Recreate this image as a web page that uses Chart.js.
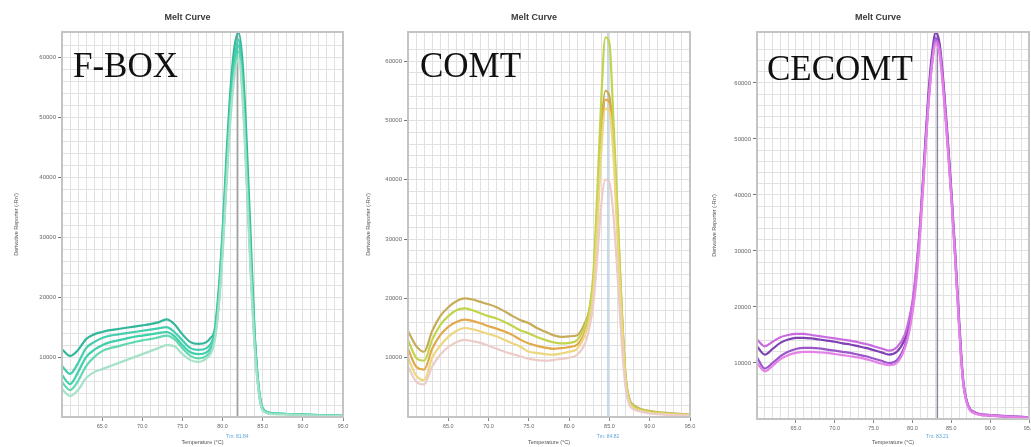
<!DOCTYPE html>
<html><head><meta charset="utf-8">
<script src="https://cdn.jsdelivr.net/npm/chart.js@4/dist/chart.umd.min.js"></script>
<style>
html,body{margin:0;padding:0;background:#fff;overflow:hidden;width:1031px;height:447px;}
.p{position:absolute;top:0;}
canvas{display:block;}
</style></head><body>
<div class="p" style="left:0px"><canvas id="c1" width="355" height="447"></canvas></div>
<div class="p" style="left:355px"><canvas id="c2" width="350" height="447"></canvas></div>
<div class="p" style="left:705px"><canvas id="c3" width="340" height="447"></canvas></div>
<script>
// ---------- text ----------
const chartTitle = 'Melt Curve';
const xAxisTitle = 'Temperature (°C)';
const yAxisTitle = "Derivative Reporter (-Rn')";
const geneNames = ['F-BOX', 'COMT', 'CECOMT'];
const xMajorTicks = [65, 70, 75, 80, 85, 90, 95];
const yTickLabels = ['10000', '20000', '30000', '40000', '50000', '60000'];
const tmValues = [81.84, 84.82, 83.21];

// ---------- F-BOX ----------
const fboxTemps = [60,61,62,63,64,65,66,67,68,69,70,71,72,73,74,75,76,77,78,78.5,79,79.5,80,80.5,81,81.5,82,82.5,83,83.5,84,84.5,85,86,88,90,92,95];
const fboxS5 = [0.47,0.35,0.45,0.65,0.75,0.80,0.85,0.90,0.95,1.00,1.05,1.10,1.15,1.20,1.18,1.05,0.95,0.92,0.98,1.05,1.25,1.80,2.70,3.90,5.00,5.70,6.00,5.30,3.90,2.40,1.15,0.42,0.11,0.05,0.04,0.03,0.02,0.02];
const fboxS4 = [0.58,0.45,0.60,0.85,1.00,1.10,1.15,1.18,1.22,1.25,1.28,1.30,1.33,1.36,1.30,1.15,1.02,0.98,1.02,1.10,1.30,1.85,2.80,4.00,5.10,5.80,6.10,5.40,4.00,2.50,1.20,0.45,0.12,0.06,0.05,0.04,0.03,0.02];
const fboxS3 = [0.70,0.55,0.75,1.00,1.12,1.20,1.25,1.28,1.31,1.34,1.36,1.38,1.40,1.42,1.35,1.20,1.08,1.05,1.08,1.15,1.32,1.90,2.90,4.10,5.20,5.90,6.20,5.60,4.20,2.70,1.35,0.50,0.14,0.06,0.05,0.04,0.03,0.02];
const fboxS2 = [0.85,0.72,0.90,1.15,1.25,1.32,1.36,1.38,1.40,1.42,1.44,1.46,1.48,1.50,1.42,1.28,1.15,1.12,1.15,1.22,1.40,2.00,3.00,4.20,5.30,6.00,6.30,5.50,4.10,2.60,1.30,0.50,0.15,0.07,0.05,0.04,0.03,0.02];
const fboxS1 = [1.13,1.02,1.12,1.30,1.38,1.42,1.45,1.47,1.49,1.51,1.53,1.55,1.58,1.63,1.55,1.38,1.25,1.22,1.25,1.32,1.45,2.10,3.10,4.40,5.50,6.20,6.42,5.90,4.60,3.00,1.40,0.45,0.12,0.06,0.05,0.04,0.03,0.02];

// ---------- COMT ----------
const comtTemps = [60,61,62,63,64,65,66,67,68,69,70,71,72,73,74,75,76,77,78,79,80,81,82,82.5,83,83.5,84,84.5,85,85.5,86,86.5,87,87.5,88,89,90,92,95];
const comtS5 = [0.85,0.60,0.55,0.85,1.05,1.18,1.26,1.30,1.28,1.25,1.20,1.15,1.10,1.06,1.02,0.98,0.96,0.95,0.96,0.98,1.00,1.05,1.25,1.50,1.90,2.70,3.60,4.00,3.95,3.40,2.40,1.30,0.50,0.20,0.13,0.09,0.06,0.04,0.02];
const comtS4 = [1.00,0.70,0.62,1.00,1.20,1.35,1.45,1.50,1.48,1.44,1.40,1.36,1.30,1.24,1.18,1.10,1.08,1.06,1.05,1.07,1.10,1.15,1.40,1.65,2.10,3.20,4.50,5.20,5.15,4.40,3.00,1.70,0.60,0.24,0.15,0.10,0.07,0.05,0.03];
const comtS3 = [1.15,0.85,0.80,1.15,1.38,1.52,1.60,1.64,1.62,1.58,1.53,1.49,1.44,1.38,1.30,1.24,1.20,1.17,1.15,1.16,1.18,1.22,1.45,1.70,2.20,3.40,4.70,5.35,5.30,4.60,3.20,1.80,0.65,0.26,0.17,0.11,0.08,0.05,0.03];
const comtS2 = [1.30,1.00,0.95,1.30,1.55,1.70,1.80,1.83,1.80,1.75,1.70,1.66,1.60,1.53,1.46,1.41,1.35,1.30,1.26,1.24,1.25,1.30,1.55,1.80,2.40,3.80,5.40,6.40,6.30,5.00,3.50,1.90,0.70,0.28,0.18,0.12,0.09,0.06,0.03];
const comtS1 = [1.45,1.20,1.10,1.45,1.70,1.85,1.95,2.00,1.98,1.94,1.90,1.85,1.78,1.70,1.63,1.58,1.50,1.44,1.38,1.35,1.36,1.38,1.60,1.80,2.30,3.50,4.90,5.50,5.40,4.70,3.40,1.90,0.70,0.30,0.20,0.13,0.10,0.07,0.04];

// ---------- CECOMT ----------
const cecomtTemps = [60,61,62,63,64,65,66,67,68,69,70,71,72,73,74,75,76,77,78,79,79.5,80,80.5,81,81.5,82,82.5,83,83.5,84,84.5,85,85.5,86,86.5,87,88,90,92,95];
const cecomtS4 = [1.00,0.85,0.95,1.07,1.14,1.18,1.20,1.20,1.19,1.18,1.16,1.14,1.12,1.10,1.07,1.03,0.99,0.96,1.00,1.25,1.50,1.88,2.45,3.30,4.40,5.50,6.30,6.70,6.50,5.80,4.90,3.95,2.85,1.65,0.68,0.28,0.10,0.06,0.04,0.02];
const cecomtS3 = [1.10,0.90,1.00,1.12,1.20,1.25,1.27,1.27,1.26,1.24,1.22,1.20,1.18,1.15,1.12,1.08,1.04,1.00,1.05,1.30,1.58,1.95,2.55,3.40,4.50,5.60,6.40,6.80,6.60,5.90,5.00,4.00,2.90,1.70,0.70,0.30,0.11,0.06,0.04,0.02];
const cecomtS1 = [1.42,1.30,1.38,1.46,1.50,1.52,1.52,1.50,1.48,1.46,1.44,1.42,1.40,1.37,1.34,1.30,1.26,1.22,1.28,1.50,1.75,2.10,2.70,3.50,4.50,5.50,6.30,6.75,6.60,5.90,5.00,4.00,2.90,1.70,0.70,0.30,0.12,0.07,0.05,0.03];
const cecomtS2 = [1.30,1.15,1.25,1.36,1.42,1.45,1.45,1.44,1.42,1.40,1.38,1.35,1.33,1.30,1.27,1.23,1.19,1.15,1.20,1.42,1.68,2.05,2.65,3.50,4.60,5.70,6.50,6.90,6.70,6.00,5.10,4.10,3.00,1.80,0.75,0.32,0.12,0.07,0.05,0.03];

const pts = (t, s) => t.map((v, i) => ({x: v, y: s[i]}));

const decor = {
  id: 'decor',
  beforeDraw(chart) {
    const c = chart.ctx; c.save(); c.fillStyle = '#fff'; c.fillRect(0, 0, chart.width, chart.height); c.restore();
  },
  beforeDatasetsDraw(chart, args, o) {
    const {ctx, chartArea: a, scales: {x}} = chart;
    const px = x.getPixelForValue(o.tm);
    ctx.save(); ctx.strokeStyle = o.tmLine; ctx.lineWidth = 1.5;
    ctx.beginPath(); ctx.moveTo(px, a.top); ctx.lineTo(px, a.bottom); ctx.stroke(); ctx.restore();
  },
  afterDraw(chart, args, o) {
    const {ctx, chartArea: a, scales: {x}} = chart;
    ctx.save();
    ctx.strokeStyle = '#c4c4c4'; ctx.lineWidth = 2;
    ctx.strokeRect(a.left, a.top, a.right - a.left, a.bottom - a.top);
    ctx.fillStyle = '#3a3a3a'; ctx.font = 'bold 9px "Liberation Sans", Arial, sans-serif';
    ctx.textAlign = 'center'; ctx.textBaseline = 'middle';
    ctx.fillText(chartTitle, (a.left + a.right) / 2 + o.titleDx, 18);
    ctx.fillStyle = '#111'; ctx.font = '35px "Liberation Serif", "Times New Roman", serif';
    ctx.textAlign = 'left'; ctx.textBaseline = 'alphabetic';
    ctx.fillText(o.gene, a.left + o.geneDx, o.geneY);
    const px = x.getPixelForValue(o.tm);
    ctx.fillStyle = '#5aa6dc'; ctx.font = '5px "Liberation Sans", sans-serif';
    ctx.textAlign = 'center'; ctx.textBaseline = 'middle';
    ctx.fillText('Tm: ' + o.tm.toFixed(2), px, 437);
    ctx.restore();
  }
};

function makeChart(id, datasets, g) {
  const isMajorY = v => Math.abs(v - Math.round(v)) < 1e-6 && Math.round(v) >= 1;
  const isMajorX = v => xMajorTicks.some(m => Math.abs(m - v) < 1e-6);
  return new Chart(document.getElementById(id), {
    type: 'line',
    data: {datasets: datasets.map(d => ({
      data: d.data, borderColor: d.color, borderWidth: 2.2, pointRadius: 0,
      fill: false, cubicInterpolationMode: 'monotone'
    }))},
    options: {
      responsive: false, animation: false, devicePixelRatio: 1,
      layout: {padding: {top: g.top, right: g.right, left: g.left, bottom: 0}},
      plugins: {legend: {display: false}, tooltip: {enabled: false}, title: {display: false},
        decor: {gene: g.gene, tm: g.tm, tmLine: g.tmLine, titleDx: -15, geneDx: g.geneDx, geneY: g.geneY}},
      scales: {
        x: {
          type: 'linear', min: 60, max: 95,
          afterFit: s => { s.height = g.xh; },
          ticks: {stepSize: 1, autoSkip: false, maxRotation: 0, padding: 2,
            font: {size: 5.5, family: '"Liberation Sans", sans-serif'}, color: '#666',
            callback: v => isMajorX(v) ? v.toFixed(1) : ''},
          grid: {color: '#e1e1e1', lineWidth: 1, tickLength: 4,
            tickColor: c => (c.tick && isMajorX(c.tick.value)) ? '#888' : 'rgba(0,0,0,0)'},
          border: {display: false},
          title: {display: true, text: xAxisTitle, font: {size: 5.5, family: '"Liberation Sans", sans-serif'}, color: '#555', padding: {top: 0, bottom: 1}}
        },
        y: {
          type: 'linear', min: 0, max: g.ymax,
          afterFit: s => { s.width = g.yw; },
          ticks: {stepSize: 0.2, autoSkip: false, padding: 2,
            font: {size: 6, family: '"Liberation Sans", sans-serif'}, color: '#666',
            callback: v => isMajorY(v) ? yTickLabels[Math.round(v) - 1] : ''},
          grid: {color: '#e1e1e1', lineWidth: 1, tickLength: 4,
            tickColor: c => (c.tick && isMajorY(c.tick.value)) ? '#777' : 'rgba(0,0,0,0)'},
          border: {display: false},
          title: {display: true, text: yAxisTitle, font: {size: 5.5, family: '"Liberation Sans", sans-serif'}, color: '#555', padding: {top: 0, bottom: 0}}
        }
      }
    },
    plugins: [decor]
  });
}

makeChart('c1', [
  {data: pts(fboxTemps, fboxS5), color: '#a6e2c8'},
  {data: pts(fboxTemps, fboxS4), color: '#62d8b2'},
  {data: pts(fboxTemps, fboxS3), color: '#3fd0ac'},
  {data: pts(fboxTemps, fboxS2), color: '#45cdb0'},
  {data: pts(fboxTemps, fboxS1), color: '#33b79b'}
], {gene: geneNames[0], tm: tmValues[0], tmLine: '#a0a0a0', top: 32, right: 12, left: 13, yw: 49, xh: 30, ymax: 6.43, geneDx: 11, geneY: 77});

makeChart('c2', [
  {data: pts(comtTemps, comtS5), color: '#ecccc8'},
  {data: pts(comtTemps, comtS4), color: '#ecd67e'},
  {data: pts(comtTemps, comtS2), color: '#c2d44c'},
  {data: pts(comtTemps, comtS3), color: '#e2a94a'},
  {data: pts(comtTemps, comtS1), color: '#c7ab58'}
], {gene: geneNames[1], tm: tmValues[1], tmLine: '#b2cfe8', top: 32, right: 15, left: 10, yw: 43, xh: 30, ymax: 6.49, geneDx: 12, geneY: 77});

makeChart('c3', [
  {data: pts(cecomtTemps, cecomtS4), color: '#e482e8'},
  {data: pts(cecomtTemps, cecomtS1), color: '#c96ade'},
  {data: pts(cecomtTemps, cecomtS3), color: '#9c56cc'},
  {data: pts(cecomtTemps, cecomtS2), color: '#7e40b2'}
], {gene: geneNames[2], tm: tmValues[2], tmLine: '#8f80aa', top: 32, right: 16, left: 6, yw: 46, xh: 28, ymax: 6.91, geneDx: 10, geneY: 80});
</script>
</body></html>
